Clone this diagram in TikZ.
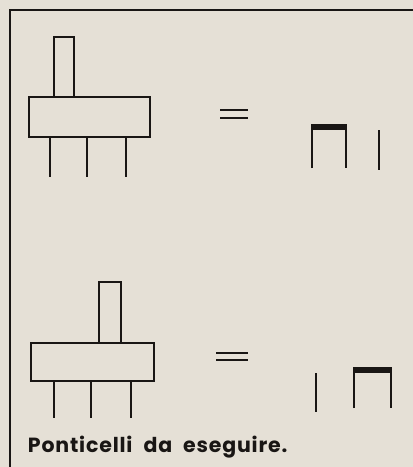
\documentclass[tikz,border=0pt]{standalone}
\usepackage{fontspec}
\setmainfont{Poppins}
\usepackage{tikz}
\definecolor{carta}{RGB}{229, 224, 214}
\definecolor{inchiostro}{RGB}{25, 22, 20}

\begin{document}
\begin{tikzpicture}[x=1pt, y=-1pt, line width=1.9pt, draw=inchiostro]
	\useasboundingbox (0,0) rectangle (413,467);
	\fill[carta] (0,0) rectangle (413,467);
	% cornice
	\draw[line width=2pt] (413,10) -- (10,10) -- (10,467);
	% deviatore in alto
	\draw (54,97) -- (54,37) -- (74,37) -- (74,97);
	\draw (29,97) rectangle (150,137);
	\foreach \x in {50,87,126} {
		\draw (\x,137) -- (\x,177);
	}
	\draw (220,110) -- (248,110);
	\draw (220,118) -- (248,118);
	% ponticelli
	\draw (312,168) -- (312,126) -- (346,126) -- (346,168);
	\fill[inchiostro] (311,124) rectangle (347,130);
	\draw (379,130) -- (379,170);
	% deviatore in basso
	\draw (99,343) -- (99,282) -- (121,282) -- (121,343);
	\draw (31,343) rectangle (154,381);
	\foreach \x in {54,91,131} {
		\draw (\x,381) -- (\x,418);
	}
	\draw (216,353) -- (248,353);
	\draw (216,360) -- (248,360);
	% ponticelli
	\draw (316,373) -- (316,412);
	\draw (354,408) -- (354,369) -- (391,369) -- (391,408);
	\fill[inchiostro] (353,367) rectangle (392,373);
	\node[anchor=base west, inner sep=0pt, text=inchiostro, font=\fontsize{20.5}{24}\selectfont\bfseries\addfontfeatures{LetterSpace=4}] (didascalia) at (27,452) {Ponticelli\hspace{11pt}da\hspace{11pt}eseguire.};
\end{tikzpicture}
\end{document}
